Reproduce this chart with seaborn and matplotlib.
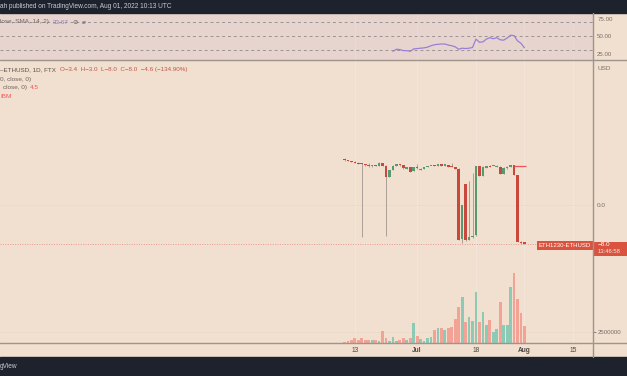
import matplotlib
matplotlib.use('Agg')
import matplotlib.pyplot as plt
import matplotlib.dates as mdates
import matplotlib.transforms as mtransforms
from matplotlib.lines import Line2D
from matplotlib.patches import Rectangle
import numpy as np
import pandas as pd
import seaborn as sns

# daily candles ETH1230-ETHUSD (FTX), Jun 10 -> Aug 01 2022
dates = pd.date_range('2022-06-10', '2022-08-01', freq='D')
opens = [9.44, 9.17, 9.03, 8.88, 8.68, 8.55, 8.41, 8.27, 7.93, 8.15,
         8.07, 8.62, 8.07, 5.80, 7.18, 8.00, 8.34, 8.20, 7.45, 7.73,
         7.04, 7.70, 7.18, 7.38, 7.73, 7.93, 8.20, 8.10, 8.14, 8.10,
         8.20, 7.90, 7.73, 7.38, -7.04, 4.24, -7.18, -6.63, -6.15, 8.00,
         5.95, 7.59, 8.07, 8.00, 7.80, 7.86, 6.36, 7.50, 7.73, 8.20,
         6.15, -7.52, -7.66]
highs = [9.55, 9.25, 9.10, 8.95, 8.75, 8.62, 8.48, 8.68, 8.20, 8.25,
         8.75, 8.70, 8.15, 7.25, 8.15, 8.40, 8.40, 8.25, 7.80, 7.80,
         7.80, 8.40, 7.65, 7.80, 8.00, 8.10, 8.25, 8.25, 8.20, 8.25,
         8.25, 8.68, 7.80, 7.50, 0.10, 4.30, 5.00, 6.50, 8.05, 8.10,
         7.95, 8.05, 8.15, 8.10, 8.15, 7.95, 7.70, 7.90, 8.30, 8.27,
         6.20, -7.45, -7.60]
lows = [9.10, 8.95, 8.80, 8.55, 8.40, -6.50, 8.05, 7.88, 7.73, 7.90,
        8.00, 8.00, -6.36, 5.70, 7.10, 7.95, 8.10, 7.45, 7.40, 6.80,
        7.00, 7.45, 7.10, 7.30, 7.70, 7.90, 8.00, 8.05, 8.05, 8.05,
        7.70, 7.75, 7.30, -7.25, -7.86, -7.30, -7.25, -6.70, -6.40, 5.95,
        5.90, 7.55, 7.75, 7.95, 7.75, 6.30, 6.30, 7.45, 7.70, 6.10,
        -7.55, -7.90, -8.05]
closes = [9.17, 9.03, 8.88, 8.62, 8.47, 8.34, 8.14, 7.93, 8.07, 7.95,
          8.68, 8.07, 5.68, 7.18, 8.07, 8.34, 8.14, 7.52, 7.73, 6.84,
          7.73, 7.50, 7.38, 7.73, 7.93, 8.07, 8.07, 8.20, 8.10, 8.20,
          7.73, 7.80, 7.38, -7.18, 0.00, -7.18, -6.63, -6.36, 8.00, 6.00,
          7.86, 8.00, 7.80, 8.05, 8.07, 6.36, 7.66, 7.86, 8.27, 6.15,
          -7.52, -7.86, -8.00]
# volume, millions
volumes = [0.23, 0.39, 0.68, 1.14, 0.68, 1.20, 0.61, 0.61, 0.61, 0.75,
           0.39, 2.66, 1.07, 0.52, 1.43, 0.39, 0.68, 1.14, 0.61, 1.14,
           4.61, 1.66, 0.84, 0.52, 1.20, 1.43, 2.95, 3.47, 3.47, 2.95,
           3.41, 3.75, 5.45, 8.10, 10.56, 4.77, 5.97, 5.06, 11.65, 4.84,
           6.97, 4.02, 5.15, 2.43, 3.25, 9.24, 4.02, 4.02, 12.70, 15.90,
           9.99, 6.88, 3.86]
# RSI(14), starts on the 15th candle
rsi_values = [28.5, 31.5, 31.0, 29.5, 29.5, 28.5, 32.0, 32.5, 33.0, 33.5,
              34.5, 36.5, 38.0, 38.5, 39.0, 39.0, 37.5, 36.5, 35.0, 31.5,
              33.0, 32.5, 33.0, 34.0, 46.0, 41.5, 42.0, 46.0, 48.0, 46.5,
              48.0, 45.0, 44.5, 47.5, 51.5, 51.0, 43.5, 40.0, 33.67]
rsi_levels = [70, 50, 30]
rsi_ticks = [25, 50, 75]
rsi_tick_labels = ['25.00', '50.00', '75.00']
ma_level = 8.0
ma_start = 49
tick_dates = ['2022-06-13', '2022-07-01', '2022-07-18', '2022-08-01', '2022-08-15']
tick_labels = ['13', 'Jul', '18', 'Aug', '15']

df = pd.DataFrame({'date': dates, 'open': opens, 'high': highs,
                   'low': lows, 'close': closes, 'volume': volumes})
df['x'] = mdates.date2num(df['date'])
df['up'] = df['close'] >= df['open']
tick_x = mdates.date2num(pd.to_datetime(tick_dates))

BG = '#f1dfcf'
RSI_BG = '#e7d4ce'
DARK = '#1e222d'
RED = '#c9473b'
GREEN = '#559a70'
VOL_RED = '#f3a396'
VOL_GREEN = '#8ccab5'
WICK = '#aa9f97'
LINE = '#9e948c'
AXTXT = '#77706b'
GRID = '#f4e6da'

sns.set_theme(style='white')
plt.rcParams['font.family'] = ['Liberation Sans', 'DejaVu Sans']

W, H = 627, 376
fig = plt.figure(figsize=(6.27, 3.76), dpi=100, facecolor=BG)


def box(x0, y0, x1, y1):
    return [x0 / W, 1 - y1 / H, (x1 - x0) / W, (y1 - y0) / H]


def fy(y):
    return 1 - y / H


ax_rsi = fig.add_axes(box(0, 13, 593, 60))
ax = fig.add_axes(box(0, 60, 593, 343), sharex=ax_rsi)
ax_vol = ax.twinx()
ax.set_zorder(ax_vol.get_zorder() + 1)
ax.patch.set_visible(False)

x0 = df['x'].iloc[0]
px_day = 3.46
ax.set_xlim(x0 - 344.5 / px_day, x0 + (593 - 344.5) / px_day)

# vertical grid behind everything in the main pane
for t in tick_x:
    ax_vol.axvline(t, color=GRID, lw=0.7, zorder=0)

# volume
ax_vol.bar(df['x'], df['volume'], width=0.8, linewidth=0, snap=True,
           color=np.where(df['up'], VOL_GREEN, VOL_RED), zorder=1)
ax_vol.set_ylim(0, 283 / 11 * 2.5)
ax_vol.set_yticks([2.5], ['2500000'])
ax_vol.tick_params(axis='y', length=2.5, width=0.6, color=AXTXT, pad=1,
                   labelsize=4.4, labelcolor=AXTXT)
ax_vol.grid(axis='y', color='#ecdacb', lw=0.6)

# candles
ax.vlines(df['x'], df['low'], df['high'], color=WICK, lw=0.7, zorder=2)
body = np.maximum((df['close'] - df['open']).abs(), 0.22)
ax.bar(df['x'], body, bottom=np.minimum(df['open'], df['close']), width=0.76,
       color=np.where(df['up'], GREEN, RED), linewidth=0, snap=True, zorder=3)
ax.set_ylim((205 - 343) / 4.875, (205 - 60) / 4.875)

last = df['close'].iloc[-1]
ax.axhline(last, color='#e99a8d', lw=0.7, ls=(0, (1, 1.5)), zorder=1)
ax.hlines(ma_level, df['x'].iloc[ma_start], df['x'].iloc[-1] + 0.5,
          color='#f0505a', lw=0.9, zorder=4)

ax.set_xticks(tick_x, tick_labels)
for lab in ax.get_xticklabels():
    if lab.get_text() in ('Jul', 'Aug'):
        lab.set_fontweight('bold')
ax.tick_params(axis='x', length=0, pad=3.2, labelsize=4.8, labelcolor='#4d4845')
ax.set_yticks([0.0], ['0.0'])
ax.yaxis.tick_right()
ax.tick_params(axis='y', length=0, pad=3, labelsize=4.6, labelcolor=AXTXT)
ax.grid(axis='y', color='#ecdacb', lw=0.6)

# RSI pane
ax_rsi.set_facecolor(RSI_BG)
for lv in rsi_levels:
    ax_rsi.axhline(lv, color='#9a9494', lw=0.7, ls=(0, (3, 3)))
rsi_x = df['x'].iloc[-len(rsi_values):].to_numpy()
sns.lineplot(x=rsi_x, y=rsi_values, ax=ax_rsi, color='#9a7fd6', lw=0.9)
ax_rsi.set_ylim(50 - (60 - 36.3) / 0.7, 50 + (36.3 - 13) / 0.7)
ax_rsi.set_yticks(rsi_ticks, rsi_tick_labels)
ax_rsi.yaxis.tick_right()
ax_rsi.tick_params(axis='y', length=0, pad=3, labelsize=4.4, labelcolor=AXTXT)
ax_rsi.tick_params(axis='x', length=0, labelbottom=False)
ax_rsi.grid(axis='x', color='#ebdad4', lw=0.7)

for a in (ax, ax_vol, ax_rsi):
    for s in a.spines.values():
        s.set_visible(False)

# price labels on the right
blend = mtransforms.blended_transform_factory(ax.transAxes, ax.transData)
ax.text(591 / 593, last - 0.27, 'ETH1230-ETHUSD', transform=blend, ha='right',
        va='center', color='white', fontsize=4.3, zorder=6,
        bbox=dict(boxstyle='square,pad=0.3', fc='#d9533f', ec='none'))
ax.add_patch(Rectangle((1.0, -10.46), 34 / 593, 2.94, transform=blend,
                       fc='#d9533f', ec='none', clip_on=False, zorder=6))
ax.text(1 + 5 / 593, last - 0.2, '\u22128.0', transform=blend, ha='left',
        va='center', color='white', fontsize=4.6, clip_on=False, zorder=7)
ax.text(1 + 5 / 593, last - 1.64, '13:46:58', transform=blend, ha='left',
        va='center', color='#fde4df', fontsize=4.2, clip_on=False, zorder=7)

# frame bars and separators
fig.patches.append(Rectangle((0, fy(13)), 1, 13 / H, transform=fig.transFigure,
                             color=DARK, zorder=0))
fig.patches.append(Rectangle((0, 0), 1, 19 / H, transform=fig.transFigure,
                             color=DARK, zorder=0))
fig.add_artist(Line2D([0, 1], [fy(60), fy(60)], color=LINE, lw=1.0))
fig.add_artist(Line2D([0, 1], [fy(343), fy(343)], color=LINE, lw=1.0))
fig.add_artist(Line2D([593 / W, 593 / W], [fy(357), fy(13)], color=LINE, lw=1.0))

fig.text(0, fy(6.5), 'ah published on TradingView.com, Aug 01, 2022 10:13 UTC',
         color='#c9ccd4', fontsize=4.7, va='center')
fig.text(0, fy(367), 'gView', color='#c9ccd4', fontsize=4.7, va='center')
fig.text(598 / W, fy(68), 'USD', color=AXTXT, fontsize=4.6, va='center')

# legends
fig.text(0, fy(22), 'lose, SMA, 14, 2)', color='#6e6460', fontsize=4.6, va='center')
fig.text(53 / W, fy(22), '33.67', color='#9575cd', fontsize=4.6, va='center')
fig.text(72 / W, fy(22), '\u2298', color='#6e6460', fontsize=4.6, va='center')
fig.text(82 / W, fy(22), '\u00f8', color='#6e6460', fontsize=4.6, va='center')

fig.text(0, fy(70), '\u2013ETHUSD, 1D, FTX', color='#5b4f4b', fontsize=4.5, va='center')
fig.text(60 / W, fy(70),
         'O\u22123.4  H\u22123.0  L\u22128.0  C\u22128.0  \u22124.6 (\u2212134.90%)',
         color='#c0574a', fontsize=4.5, va='center')
fig.text(0, fy(79), '0, close, 0)', color='#6e6460', fontsize=4.6, va='center')
fig.text(3 / W, fy(87.5), 'close, 0)', color='#6e6460', fontsize=4.6, va='center')
fig.text(30 / W, fy(87.5), '4.5', color='#f2545b', fontsize=4.6, va='center')
fig.text(0, fy(96), 'IBM', color='#f2545b', fontsize=4.6, va='center')

fig.savefig('out.png', dpi=100, facecolor=BG)
